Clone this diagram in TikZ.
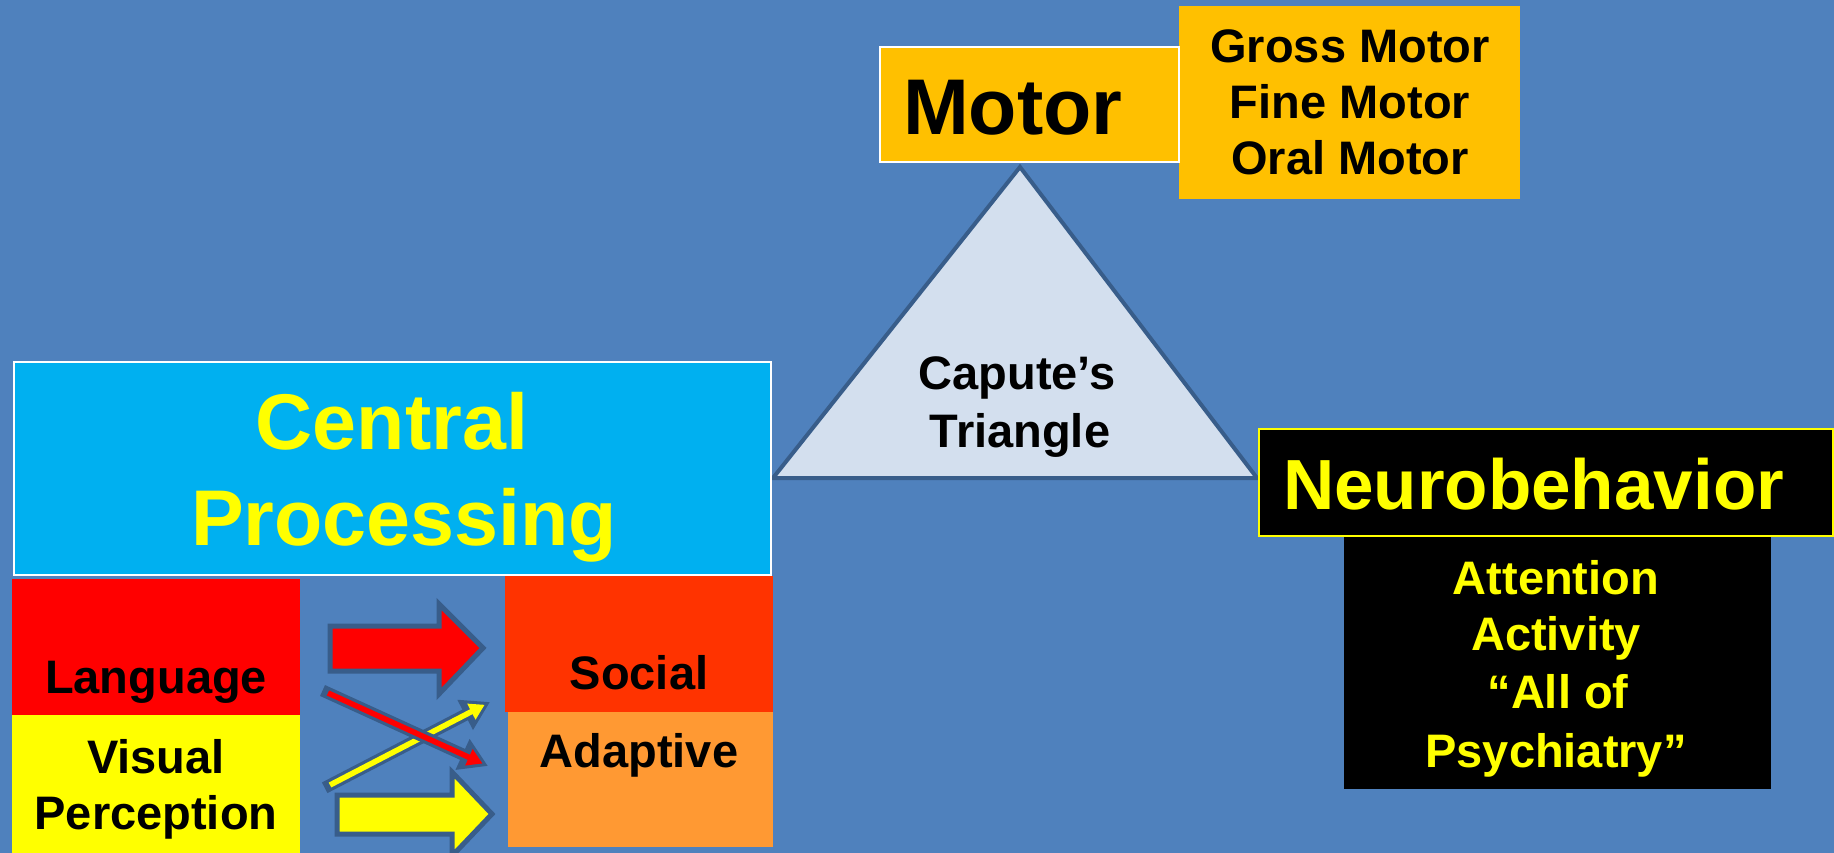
\documentclass[tikz,border=0pt]{standalone}
\usepackage{fontspec}
\setmainfont{Liberation Sans}
\usetikzlibrary{arrows.meta}
\definecolor{slide}{HTML}{4F81BD}
\definecolor{outl}{HTML}{385D8A}
\definecolor{motorfill}{HTML}{FFC000}
\definecolor{cpfill}{HTML}{00B0F0}
\definecolor{socialfill}{HTML}{FF3300}
\definecolor{adaptfill}{HTML}{FF9933}
\definecolor{trifill}{HTML}{D3DFEE}
\definecolor{hiyellow}{HTML}{FFFF00}
\begin{document}
\begin{tikzpicture}[x=1pt,y=-1pt,
  panel/.style={anchor=north west, inner sep=0pt, outer sep=0pt},
  lbl/.style={anchor=base, inner sep=0pt, outer sep=0pt},
  bigtxt/.style={lbl, font=\fontsize{79}{95}\selectfont\bfseries},
  midtxt/.style={lbl, font=\fontsize{71}{85}\selectfont\bfseries},
  smalltxt/.style={lbl, font=\fontsize{47}{57}\selectfont\bfseries},
  blockarrow/.style={draw=outl, line width=5pt, line join=miter},
  thinback/.style={draw=outl, line width=12pt, line cap=rect,
    -{Triangle[length=28pt,width=32pt]}},
  thinfront/.style={line width=5.5pt, shorten >=6pt,
    -{Triangle[length=15pt,width=17pt]}}]
\useasboundingbox (0,0) rectangle (1834,853);
\fill[slide] (0,0) rectangle (1834,853);

% Motor: headline box with its list of motor skills
\node[panel, fill=motorfill, minimum width=341pt, minimum height=193pt]
  (motorlist) at (1179,6) {};
\node[panel, fill=motorfill, draw=white, line width=2pt,
  minimum width=299pt, minimum height=115pt] (motor) at (880,47) {};
\node[bigtxt, anchor=base west] (motorT) at (903,135) {Motor};
\node[smalltxt] (gross) at (1350,63) {Gross Motor};
\node[smalltxt] (fine) at (1350,119) {Fine Motor};
\node[smalltxt] (oral) at (1350,175) {Oral Motor};

% Capute's triangle
\coordinate (apex) at (1020,167);
\coordinate (baseL) at (773,478);
\coordinate (baseR) at (1257,478);
\draw[fill=trifill, draw=outl, line width=4pt, line join=miter]
  (apex) -- (baseL) -- (baseR) -- cycle;
\node[smalltxt] (capute) at (1017,389) {Capute’s};
\node[smalltxt] (triT) at (1020,447) {Triangle};

% Central processing and its four streams
\node[panel, fill=cpfill, draw=white, line width=2pt,
  minimum width=757pt, minimum height=213pt] (cp) at (14,362) {};
\node[bigtxt, text=hiyellow] (cp1) at (392,449) {Central};
\node[bigtxt, text=hiyellow] (cp2) at (404,545) {Processing};

\node[panel, fill=red, minimum width=288pt, minimum height=136pt]
  (lang) at (12,579) {};
\node[panel, fill=hiyellow, minimum width=288pt, minimum height=141pt]
  (vis) at (12,715) {};
\node[panel, fill=socialfill, minimum width=268pt, minimum height=136pt]
  (social) at (505,576) {};
\node[panel, fill=adaptfill, minimum width=265pt, minimum height=135pt]
  (adapt) at (508,712) {};

\node[smalltxt] (langT) at (156,693) {Language};
\node[smalltxt] (visT1) at (156,773) {Visual};
\node[smalltxt] (visT2) at (156,829) {Perception};
\node[smalltxt] (socialT) at (639,689) {Social};
\node[smalltxt] (adaptT) at (639,767) {Adaptive};

% block arrows: language -> social, visual -> adaptive
\draw[blockarrow, fill=red]
  (330,626) -- (439,626) -- (439,604) -- (483,648) -- (439,694)
  -- (439,671) -- (330,671) -- cycle;
\draw[blockarrow, fill=hiyellow]
  (337,795) -- (452,795) -- (452,772) -- (492,814) -- (452,856)
  -- (452,834) -- (337,834) -- cycle;

% crossing arrows: visual -> social, language -> adaptive
\coordinate (visOut) at (330,785);
\coordinate (socialIn) at (490,702);
\coordinate (langOut) at (328,693);
\coordinate (adaptIn) at (488,766);
\draw[thinback] (visOut) -- (socialIn);
\draw[thinfront, draw=hiyellow, fill=hiyellow] (visOut) -- (socialIn);
\draw[thinback] (langOut) -- (adaptIn);
\draw[thinfront, draw=red, fill=red] (langOut) -- (adaptIn);

% Neurobehavior
\node[panel, fill=black, draw=hiyellow, line width=2.5pt,
  minimum width=574pt, minimum height=107pt] (neuro) at (1259,429) {};
\node[midtxt, anchor=base west, text=hiyellow] (neuroT) at (1283,509)
  {Neurobehavior};
\node[panel, fill=black, minimum width=427pt, minimum height=252pt]
  (attn) at (1344,537) {};
\node[smalltxt, text=hiyellow] (attn1) at (1556,594) {Attention};
\node[smalltxt, text=hiyellow] (attn2) at (1556,650) {Activity};
\node[smalltxt, text=hiyellow] (attn3) at (1558,708) {“All of};
\node[smalltxt, text=hiyellow] (attn4) at (1556,767) {Psychiatry”};
\end{tikzpicture}
\end{document}
